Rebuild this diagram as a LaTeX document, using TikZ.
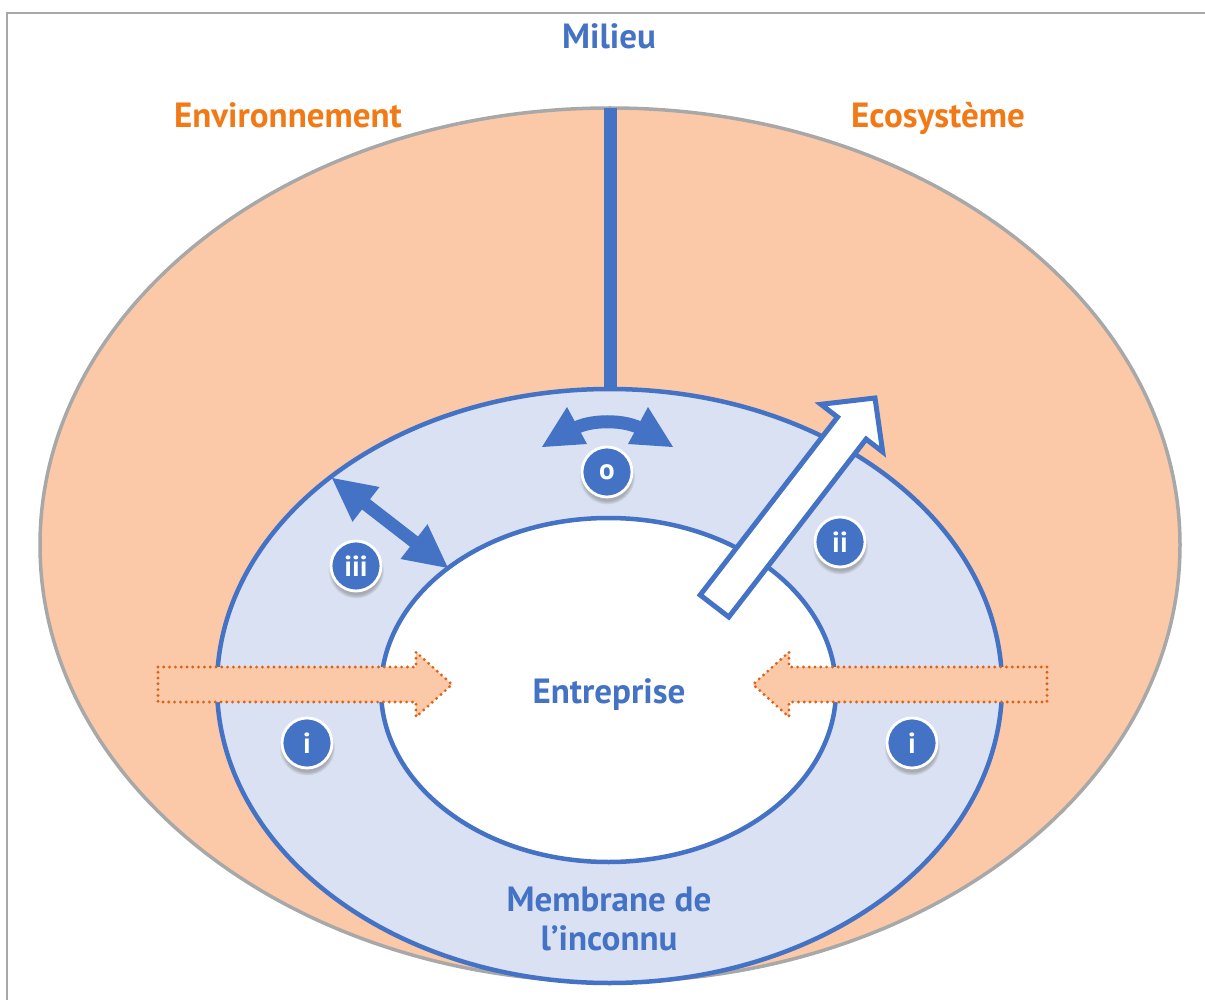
\documentclass[tikz,border=0pt]{standalone}
\usepackage{fontspec}
\setmainfont{PT Sans}
\usetikzlibrary{calc,shadows,fadings}
\definecolor{mblue}{RGB}{68,114,196}
\definecolor{peach}{RGB}{251,201,168}
\definecolor{lblue}{RGB}{217,225,242}
\definecolor{otext}{RGB}{242,122,22}
\definecolor{odot}{RGB}{222,98,20}
\definecolor{gline}{RGB}{168,168,168}
\begin{document}
\begin{tikzpicture}[x=1pt,y=-1pt,
  badge/.style={circle, fill=mblue, draw=white, line width=2.8pt, minimum size=50pt,
    inner sep=0pt, text=white, font=\bfseries\fontsize{29}{29}\selectfont,
    circular drop shadow={shadow xshift=0pt, shadow yshift=-4pt, shadow scale=1.12, opacity=0.55}},
  lbl/.style={font=\bfseries\fontsize{35}{39}\selectfont, inner sep=0pt, anchor=base},
  dotarrow/.style={fill=peach, draw=odot, line width=3.2pt, dash pattern=on 0pt off 5.8pt, line cap=round},
  solidarrow/.style={fill=mblue},
  hollowarrow/.style={fill=white, draw=mblue, line width=5pt, line join=miter}]
\useasboundingbox (0,0) rectangle (1205,1000);
% frame
\draw[gline, line width=2.2pt] (7,1002) -- (7,13) -- (1207,13);
% outer ellipse
\draw[fill=peach, draw=gline, line width=3.5pt] (610,545) ellipse [x radius=570pt, y radius=437pt];
% milieu line
\draw[mblue, line width=13pt] (610.5,108) -- (610.5,392);
% middle ellipse
\draw[fill=lblue, draw=mblue, line width=4.5pt] (609.5,686) ellipse [x radius=392.5pt, y radius=297pt];
% inner ellipse
\draw[fill=white, draw=mblue, line width=4.5pt] (608.5,690) ellipse [x radius=227.5pt, y radius=172pt];
% curved double arrow (o)
\draw[mblue, line width=13pt] (572,430) .. controls (588,419) and (627,419) .. (643,430);
\fill[solidarrow] (542,447) -- (567,407) -- (587,444) -- cycle;
\fill[solidarrow] (673,447) -- (648,407) -- (628,444) -- cycle;
% straight double arrow (iii)
\fill[solidarrow] (332,478) -- (352.5,521.8) -- (362.0,509.5) -- (410.0,546.7) -- (400.5,559.0)
  -- (448,568) -- (427.5,524.2) -- (418.0,536.5) -- (370.0,499.3) -- (379.5,487.0) -- cycle;
% hollow arrow (ii)
\draw[hollowarrow] (700.2,595) -- (837.5,417.1) -- (820.9,404.3) -- (875,398) -- (882.7,451.9)
  -- (866.1,439.1) -- (728.8,617) -- cycle;
% dotted arrows (i)
\draw[dotarrow] (158,667) -- (416,667) -- (416,652) -- (452,684.5) -- (416,717) -- (416,702) -- (158,702) -- cycle;
\draw[dotarrow] (1047,667) -- (789,667) -- (789,652) -- (753,684.5) -- (789,717) -- (789,702) -- (1047,702) -- cycle;
% badges
\node[badge] (bo) at (607,472) {o};
\node[badge] (biii) at (356,566) {iii};
\node[badge] (bii) at (840,542) {ii};
\node[badge] (bil) at (307,743) {i};
\node[badge] (bir) at (912,743) {i};
% labels
\node[lbl, text=mblue] (milieu) at (609,49) {Milieu};
\node[lbl, text=otext] (env) at (288,128) {Environnement};
\node[lbl, text=otext] (eco) at (938,128) {Ecosystème};
\node[lbl, text=mblue] (ent) at (609,703) {Entreprise};
\node[lbl, text=mblue] (mem1) at (609,911) {Membrane de};
\node[lbl, text=mblue] (mem2) at (609,950) {l’inconnu};
\end{tikzpicture}
\end{document}
